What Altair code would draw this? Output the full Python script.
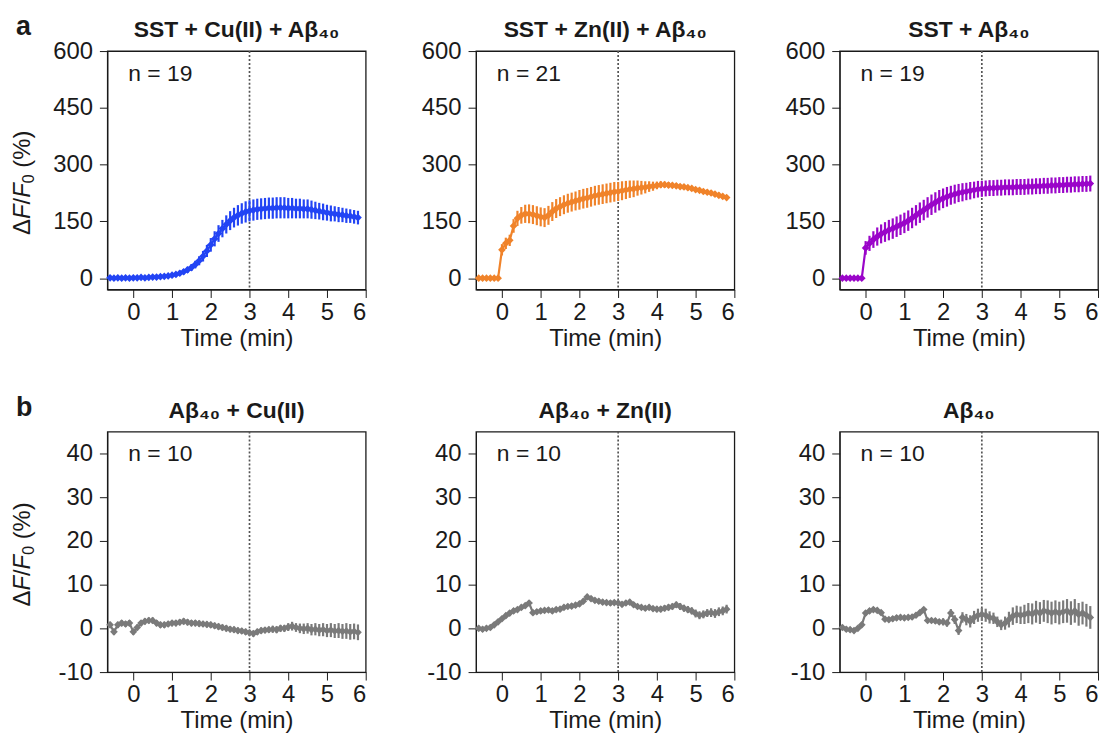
import altair as alt
import pandas as pd

TIME = [-0.6, -0.5, -0.4, -0.3, -0.2, -0.1,
        0.0, 0.1, 0.2, 0.3, 0.4, 0.5, 0.6, 0.7, 0.8, 0.9,
        1.0, 1.1, 1.2, 1.3, 1.4, 1.5, 1.6, 1.7, 1.8, 1.9,
        2.0, 2.1, 2.2, 2.3, 2.4, 2.5, 2.6, 2.7, 2.8, 2.9,
        3.0, 3.1, 3.2, 3.3, 3.4, 3.5, 3.6, 3.7, 3.8, 3.9,
        4.0, 4.1, 4.2, 4.3, 4.4, 4.5, 4.6, 4.7, 4.8, 4.9,
        5.0, 5.1, 5.2, 5.3, 5.4, 5.5, 5.6, 5.7, 5.8]

# Row a
CU_SST = [1, 0, 1, 0, 1, 0,
          1, 1, 2, 1, 2, 3, 3, 4, 5, 6,
          8, 10, 13, 17, 22, 28, 36, 46, 58, 72,
          88, 104, 118, 131, 142, 152, 160, 166, 171, 175,
          178, 180, 182, 183, 184, 185, 185, 186, 186, 186,
          185, 185, 184, 184, 183, 183, 181, 179, 177, 175,
          173, 171, 170, 168, 167, 165, 164, 162, 160]
CU_SST_ERR = [5, 5, 5, 5, 5, 5,
              5, 5, 5, 5, 5, 5, 5, 5, 5, 5,
              6, 6, 7, 7, 8, 9, 10, 12, 14, 16,
              18, 20, 22, 23, 24, 25, 26, 27, 27, 28,
              28, 28, 28, 28, 28, 28, 28, 28, 28, 28,
              27, 27, 26, 26, 25, 25, 24, 23, 22, 22,
              21, 21, 20, 20, 19, 19, 18, 18, 18]

ZN_SST = [0, 0, 0, 0, 0, 0,
          75, 92, 100, 138, 158, 166, 170, 170, 168, 165,
          162, 160, 166, 176, 184, 189, 194, 198, 201, 204,
          207, 210, 212, 215, 218, 220, 222, 224, 226, 228,
          229, 231, 233, 235, 236, 238, 239, 240, 242, 243,
          245, 247, 247, 246, 245, 244, 242, 241, 239, 237,
          234, 232, 229, 227, 225, 222, 219, 216, 213]
ZN_SST_ERR = [4, 4, 4, 4, 4, 4,
              15, 15, 15, 18, 20, 22, 24, 25, 25, 25,
              25, 25, 25, 25, 25, 25, 25, 25, 25, 25,
              26, 26, 26, 26, 26, 26, 26, 26, 26, 26,
              25, 25, 24, 23, 22, 20, 18, 16, 14, 12,
              10, 9, 8, 8, 7, 7, 7, 7, 7, 7,
              7, 7, 7, 7, 7, 7, 7, 7, 7]

SST = [0, 0, 0, 0, 0, 0,
       80, 92, 102, 110, 117, 122, 127, 131, 136, 141,
       146, 152, 159, 166, 173, 180, 187, 194, 200, 206,
       211, 215, 219, 222, 225, 227, 229, 231, 233, 235,
       236, 237, 238, 238, 239, 239, 240, 240, 240, 241,
       241, 241, 242, 242, 243, 243, 244, 244, 245, 245,
       246, 246, 247, 247, 248, 248, 249, 249, 250]
SST_ERR = [4, 4, 4, 4, 4, 4,
           18, 20, 22, 24, 25, 26, 27, 27, 27, 27,
           27, 27, 27, 27, 27, 27, 27, 27, 27, 27,
           26, 26, 25, 25, 24, 24, 23, 23, 22, 22,
           21, 21, 21, 21, 21, 21, 21, 21, 21, 21,
           21, 21, 21, 21, 21, 21, 21, 21, 21, 21,
           21, 21, 21, 21, 21, 21, 21, 21, 21]

# Row b
AB_CU = [0.8, -0.8, 0.8, 1.2, 1.0, 1.2,
         -0.8, 0.2, 1.2, 1.6, 1.8, 1.8, 1.2, 0.8, 0.8, 1.0,
         1.2, 1.2, 1.4, 1.6, 1.4, 1.2, 1.2, 1.1, 1.0, 0.9,
         0.8, 0.6, 0.4, 0.2, 0.0, -0.2, -0.3, -0.5, -0.6, -0.8,
         -1.0, -1.2, -0.8, -0.5, -0.4, -0.3, -0.2, -0.3, 0.0, 0.0,
         0.3, 0.5, 0.2, 0.0, -0.1, 0.0, -0.3, -0.2, -0.4, -0.3,
         -0.5, -0.4, -0.6, -0.5, -0.7, -0.6, -0.8, -0.7, -0.9]
AB_CU_ERR = [0.7, 0.7, 0.7, 0.7, 0.7, 0.7,
             0.7, 0.7, 0.7, 0.7, 0.7, 0.7, 0.7, 0.7, 0.7, 0.7,
             0.7, 0.7, 0.7, 0.7, 0.7, 0.7, 0.7, 0.7, 0.7, 0.7,
             0.7, 0.7, 0.7, 0.7, 0.7, 0.7, 0.7, 0.7, 0.7, 0.7,
             0.7, 0.7, 0.7, 0.7, 0.7, 0.7, 0.8, 0.8, 0.8, 0.8,
             0.9, 1.0, 1.0, 1.1, 1.2, 1.2, 1.3, 1.4, 1.4, 1.5,
             1.5, 1.6, 1.6, 1.7, 1.7, 1.8, 1.8, 1.8, 1.8]

AB_ZN = [0.0, -0.2, 0.0, 0.2, 0.8, 1.5,
         2.2, 2.9, 3.5, 4.0, 4.3, 4.8, 5.2, 5.8, 3.6, 3.8,
         4.0, 4.1, 4.2, 4.0, 4.3, 4.4, 4.8, 5.0, 5.1, 5.3,
         5.6, 6.2, 7.2, 6.8, 6.4, 6.2, 6.0, 5.9, 5.8, 5.9,
         5.8, 5.5, 5.8, 6.0, 5.4, 5.0, 4.8, 4.6, 4.8, 4.5,
         4.4, 4.4, 4.6, 4.8, 5.0, 5.4, 5.0, 4.6, 4.3, 4.0,
         3.4, 3.0, 3.2, 3.5, 3.6, 3.4, 3.8, 4.0, 4.4]
AB_ZN_ERR = [0.6, 0.6, 0.6, 0.6, 0.6, 0.6,
             0.6, 0.6, 0.6, 0.6, 0.6, 0.6, 0.6, 0.6, 0.6, 0.6,
             0.6, 0.6, 0.6, 0.6, 0.6, 0.6, 0.6, 0.6, 0.6, 0.6,
             0.6, 0.6, 0.6, 0.6, 0.6, 0.6, 0.6, 0.6, 0.6, 0.6,
             0.6, 0.6, 0.6, 0.6, 0.6, 0.6, 0.6, 0.6, 0.6, 0.6,
             0.7, 0.7, 0.7, 0.7, 0.7, 0.7, 0.8, 0.8, 0.8, 0.8,
             0.9, 0.9, 0.9, 0.9, 1.0, 1.0, 1.0, 1.0, 1.0]

AB = [0.2, -0.2, -0.3, -0.5, 0.0, 0.8,
      3.5, 4.0, 4.3, 4.1, 3.6, 2.1, 2.0, 2.2, 2.4, 2.5,
      2.4, 2.5, 2.6, 3.0, 3.6, 4.3, 1.8, 1.8, 1.7, 1.5,
      1.5, 1.2, 3.5, 2.0, -0.5, 2.5, 2.0, 1.6, 2.5, 3.0,
      3.2, 3.0, 2.5, 2.3, 1.5, 0.8, 1.2, 2.0, 2.8, 3.2,
      3.0, 3.2, 3.5, 3.3, 3.8, 3.5, 4.0, 3.8, 3.5, 3.8,
      3.5, 3.8, 4.0, 3.5, 4.0, 3.2, 3.5, 3.0, 2.5]
AB_ERR = [0.6, 0.6, 0.6, 0.6, 0.6, 0.6,
          0.6, 0.6, 0.6, 0.6, 0.6, 0.6, 0.6, 0.6, 0.6, 0.6,
          0.6, 0.6, 0.6, 0.6, 0.6, 0.6, 0.6, 0.6, 0.6, 0.6,
          0.8, 0.8, 0.9, 1.0, 1.0, 1.2, 1.3, 1.4, 1.5, 1.5,
          1.5, 1.5, 1.4, 1.3, 1.2, 1.2, 1.5, 1.8, 2.0, 2.0,
          2.0, 2.2, 2.3, 2.4, 2.5, 2.5, 2.5, 2.6, 2.6, 2.6,
          2.6, 2.6, 2.7, 2.7, 2.7, 2.6, 2.6, 2.6, 2.6]

TITLES_A = ["SST + Cu(II) + Aβ₄₀", "SST  + Zn(II) + Aβ₄₀", "SST + Aβ₄₀"]
TITLES_B = ["Aβ₄₀ + Cu(II)", "Aβ₄₀ + Zn(II)", "Aβ₄₀"]
N_A = ["n = 19", "n = 21", "n = 19"]
N_B = ["n = 10", "n = 10", "n = 10"]
COLORS_A = ["#2244F4", "#F0832A", "#9A05C9"]
GRAY = "#7A7A7A"
X_TICKS = [0, 1, 2, 3, 4, 5, 6]
Y_TICKS_A = [0, 150, 300, 450, 600]
Y_TICKS_B = [-10, 0, 10, 20, 30, 40]
Y_DOM_A = [-30, 600]
Y_DOM_B = [-10, 45]
X_DOM = [-0.67, 6]
MARK_TIME = 3
# y-axis title pieces: (text, italic, subscript, gap before in em)
YTITLE_PARTS = [("Δ", False, False, 0.0), ("F", True, False, 0.0), ("/", False, False, 0.0),
                ("F", True, False, 0.0), ("0", False, True, 0.0), ("(%)", False, False, 0.278)]

FONT = "Liberation Sans"
W = 260
INK = "#1a1a1a"
TFS = 24
# approximate advance widths (em) of the title pieces in Liberation Sans
ADV = {"Δ": 0.668, "F": 0.611, "/": 0.278, "0": 0.556, "(%)": 1.555}


def ytitle_layers(one, y_start):
    layers = []
    y = y_start
    for txt, ital, sub, gap in YTITLE_PARTS:
        fs = 16 if sub else TFS
        xb = -74 if sub else -78
        y -= gap * TFS
        layers.append(alt.Chart(one).mark_text(
            align="left", baseline="alphabetic", angle=270, fontSize=fs, font=FONT,
            fontStyle=("italic" if ital else "normal"), color=INK).encode(
            x=alt.value(xb), y=alt.value(y), text=alt.value(txt)))
        y -= ADV[txt] * fs
    return layers


def panel(vals, errs, color, title, ntext, ydom, yticks, h, ytitle_start=None, letter=None):
    df = pd.DataFrame({
        "t": TIME,
        "v": vals,
        "lo": [v - e for v, e in zip(vals, errs)],
        "hi": [v + e for v, e in zip(vals, errs)],
    })
    x = alt.X("t:Q", scale=alt.Scale(domain=X_DOM, nice=False, zero=False),
              axis=alt.Axis(values=X_TICKS, title="Time (min)", format="d",
                            labelPadding=3, titlePadding=2))
    yaxis = alt.Axis(values=yticks, minExtent=58, maxExtent=58, labelPadding=7,
                     labelExpr="'' + datum.value", title=None)
    y = alt.Y("v:Q", scale=alt.Scale(domain=ydom, nice=False, zero=False), axis=yaxis)
    base = alt.Chart(df)
    err = base.mark_rule(color=color, strokeWidth=2.2).encode(x=x, y=alt.Y("lo:Q"), y2="hi:Q")
    line = base.mark_line(color=color, strokeWidth=2.2).encode(x=x, y=y)
    pts = base.mark_point(shape="diamond", filled=True, color=color, size=60, opacity=1).encode(x=x, y=y)
    one = pd.DataFrame({"k": [0]})
    vline = alt.Chart(one).mark_rule(color="#555555", strokeDash=[2, 2], strokeWidth=1.7).encode(
        x=alt.datum(MARK_TIME))
    ntxt = alt.Chart(one).mark_text(align="left", baseline="middle", fontSize=23, font=FONT,
                                    color=INK).encode(
        x=alt.value(21), y=alt.value(23), text=alt.value(ntext))
    ttl = alt.Chart(one).mark_text(align="center", baseline="alphabetic", fontSize=23, font=FONT,
                                   fontWeight="bold", color=INK).encode(
        x=alt.value(W / 2), y=alt.value(-14), text=alt.value(title))
    layers = [vline, err, line, pts, ntxt, ttl]
    if ytitle_start is not None:
        layers += ytitle_layers(one, ytitle_start)
    if letter is not None:
        lt = alt.Chart(one).mark_text(align="left", baseline="alphabetic", fontSize=27, font=FONT,
                                      fontWeight="bold", color=INK).encode(
            x=alt.value(-92), y=alt.value(-16), text=alt.value(letter))
        layers.append(lt)
    return alt.layer(*layers).properties(width=W, height=h)


row_a_data = [(CU_SST, CU_SST_ERR), (ZN_SST, ZN_SST_ERR), (SST, SST_ERR)]
row_b_data = [(AB_CU, AB_CU_ERR), (AB_ZN, AB_ZN_ERR), (AB, AB_ERR)]

pa = [panel(v, e, COLORS_A[i], TITLES_A[i], N_A[i], Y_DOM_A, Y_TICKS_A, 240,
            185 if i == 0 else None, "a" if i == 0 else None) for i, (v, e) in enumerate(row_a_data)]
pb = [panel(v, e, GRAY, TITLES_B[i], N_B[i], Y_DOM_B, Y_TICKS_B, 242,
            176 if i == 0 else None, "b" if i == 0 else None) for i, (v, e) in enumerate(row_b_data)]

row_a = alt.hconcat(pa[0], alt.hconcat(pa[1], pa[2], spacing=45), spacing=50)
row_b = alt.hconcat(pb[0], alt.hconcat(pb[1], pb[2], spacing=45), spacing=50)

chart = alt.vconcat(row_a, row_b, spacing=42).properties(
    padding={"left": 2, "top": 2, "right": 2, "bottom": 2}
).configure_axis(
    labelFont=FONT, titleFont=FONT, labelFontSize=24, titleFontSize=24,
    titleFontWeight="normal", labelColor=INK, titleColor=INK,
    tickColor=INK, domainColor=INK, tickSize=8, grid=False,
).configure_view(
    stroke=INK, strokeWidth=1.3
)

chart.save("out.html", embed_options={"renderer": "svg", "actions": False})
